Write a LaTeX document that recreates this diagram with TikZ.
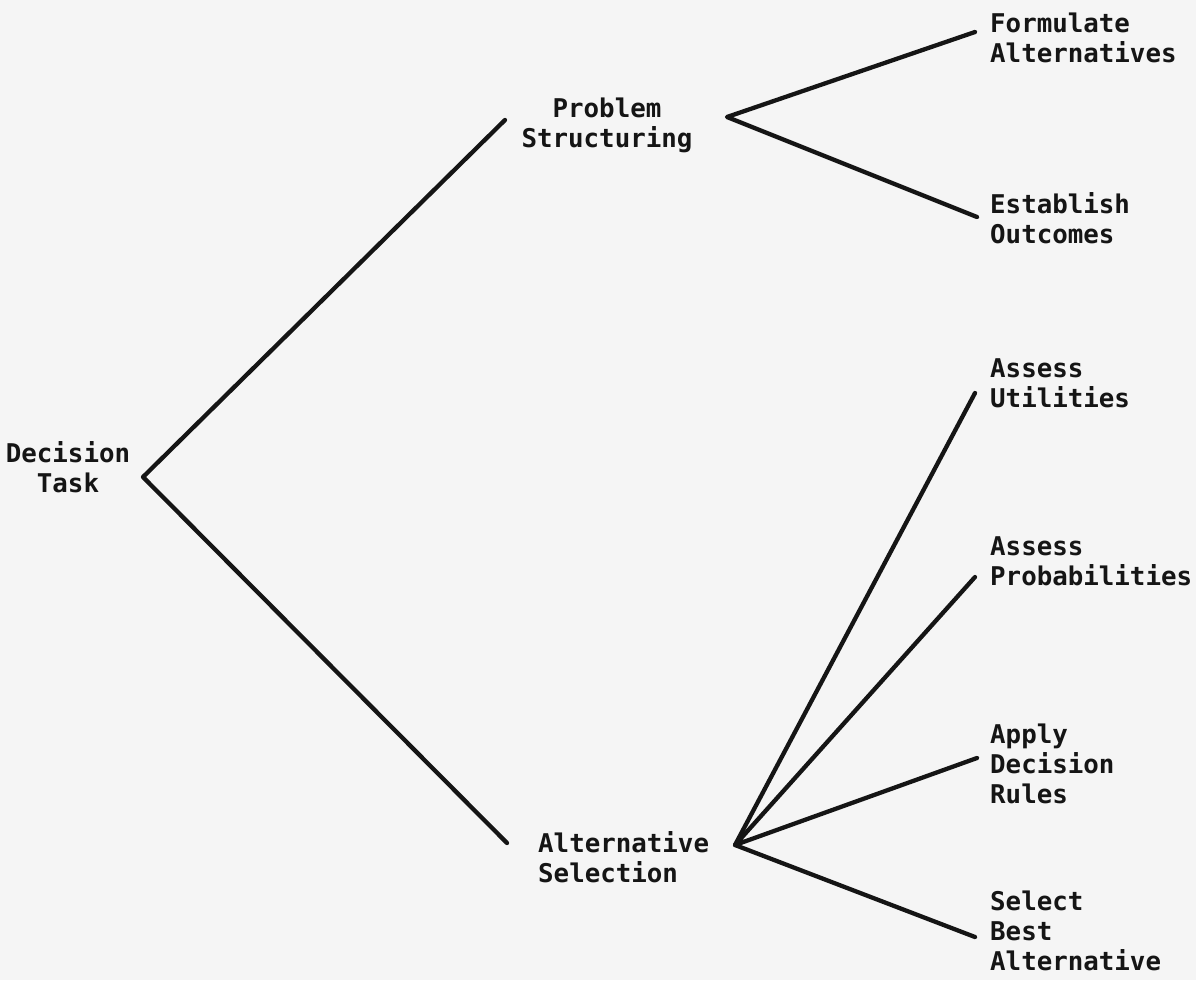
\documentclass[tikz,border=0pt]{standalone}
\usepackage{fontspec}
\newfontfamily\typewr{DejaVu Sans Mono}
\definecolor{paper}{HTML}{F5F5F5}
\definecolor{ink}{HTML}{151515}
\begin{document}
\begin{tikzpicture}[x=1pt,y=-1pt,
  lbl/.style={inner sep=0pt, text=ink, font=\typewr\bfseries\fontsize{25.8}{30}\selectfont},
  lleft/.style={lbl, anchor=north west, align=left},
  lcenter/.style={lbl, anchor=north, align=center},
  branch/.style={draw=ink, line width=4.3pt, line cap=round, line join=round}]
\fill[paper] (0,0) rectangle (1196,980);
\useasboundingbox (0,0) rectangle (1196,980);
% labels
\node[lcenter] (task) at (68,441) {\strut Decision\\\strut Task};
\node[lcenter] (ps) at (607,96) {\strut Problem\\\strut Structuring};
\node[lleft] (as) at (538,831) {\strut Alternative\\\strut Selection};
\node[lleft] (fa) at (990,11) {\strut Formulate\\\strut Alternatives};
\node[lleft] (eo) at (990,192) {\strut Establish\\\strut Outcomes};
\node[lleft] (au) at (990,356) {\strut Assess\\\strut Utilities};
\node[lleft] (ap) at (990,534) {\strut Assess\\\strut Probabilities};
\node[lleft] (dr) at (990,722) {\strut Apply\\\strut Decision\\\strut Rules};
\node[lleft] (sb) at (990,889) {\strut Select\\\strut Best\\\strut Alternative};
% junction points
\coordinate (task-r) at (143,477);
\coordinate (ps-l) at (505,120);
\coordinate (ps-r) at (727,117);
\coordinate (as-l) at (507,843);
\coordinate (as-r) at (735,845);
\coordinate (fa-l) at (975,32);
\coordinate (eo-l) at (977,217);
\coordinate (au-l) at (975,393);
\coordinate (ap-l) at (975,577);
\coordinate (dr-l) at (977,758);
\coordinate (sb-l) at (975,937);
% connectors
\draw[branch] (ps-l) -- (task-r) -- (as-l);
\draw[branch] (fa-l) -- (ps-r) -- (eo-l);
\draw[branch] (au-l) -- (as-r) -- (sb-l);
\draw[branch] (ap-l) -- (as-r) -- (dr-l);
\end{tikzpicture}
\end{document}
